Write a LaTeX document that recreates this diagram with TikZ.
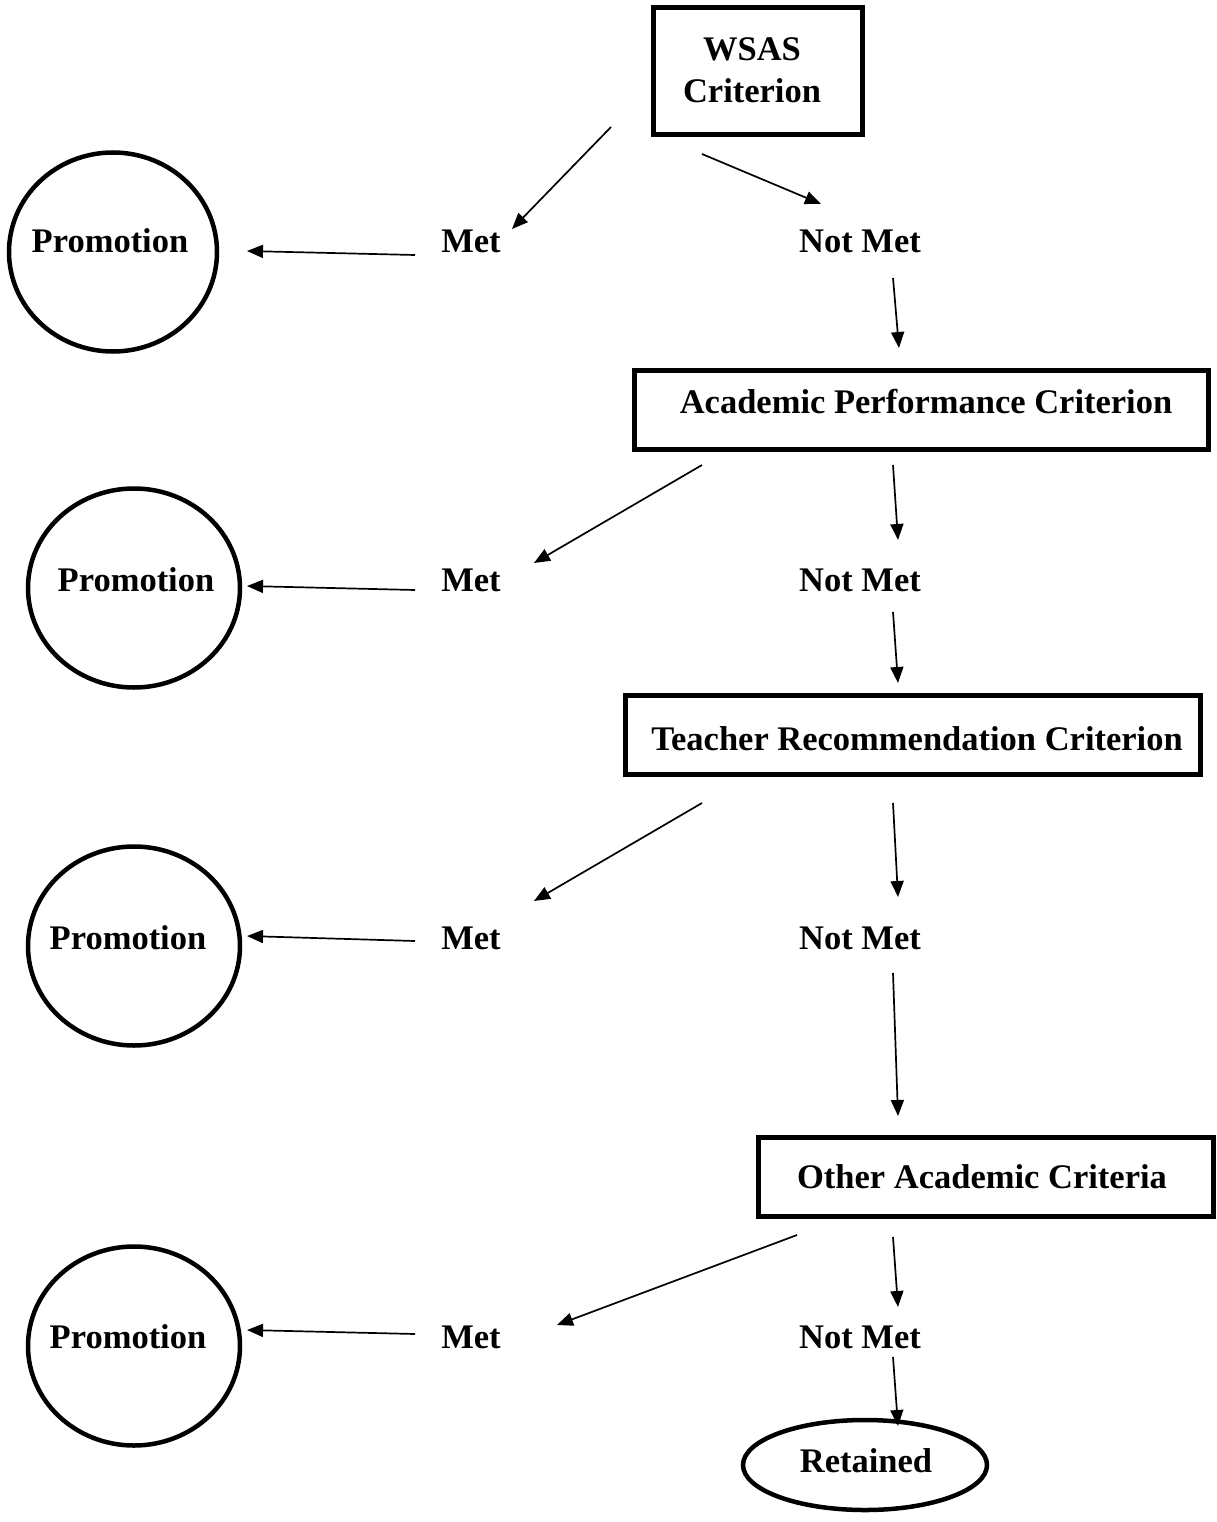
\documentclass[tikz,border=0pt]{standalone}
\usepackage{fontspec}
\setmainfont{Liberation Serif}
\usetikzlibrary{arrows.meta,shapes.geometric}
\begin{document}
\begin{tikzpicture}[x=1pt,y=-1pt,
  lbl/.style={font=\fontsize{34.5}{40}\selectfont\bfseries, anchor=base, inner sep=0pt},
  boxshape/.style={draw, line width=5pt, rectangle, inner sep=0pt},
  circshape/.style={draw, line width=4.5pt, ellipse, inner sep=0pt},
  arr/.style={line width=1.7pt, -{Triangle[length=16pt,width=13pt]}}
]
\useasboundingbox (0,0) rectangle (1217,1522);
% boxes
\node[boxshape, minimum width=209pt, minimum height=127pt] (wsas) at (757.5,71.5) {};
\node[boxshape, minimum width=574pt, minimum height=79pt] (apc) at (921,409.5) {};
\node[boxshape, minimum width=575pt, minimum height=79pt] (trc) at (912.5,734.5) {};
\node[boxshape, minimum width=455pt, minimum height=79pt] (oac) at (985.5,1176.5) {};
\node[circshape, minimum width=244pt, minimum height=90pt] (ret) at (865,1465) {};
% circles
\node[circshape, minimum width=208pt, minimum height=199pt] (p1) at (113,252) {};
\node[circshape, minimum width=212pt, minimum height=199pt] (p2) at (134,588) {};
\node[circshape, minimum width=212pt, minimum height=199pt] (p3) at (134,946) {};
\node[circshape, minimum width=212pt, minimum height=199pt] (p4) at (134,1346) {};
% texts
\node[lbl] (wsasA) at (752,61) {WSAS};
\node[lbl] (wsasB) at (752,103) {Criterion};
\node[lbl] (apcT) at (926,413) {Academic Performance Criterion};
\node[lbl] (trcT) at (917,750) {Teacher Recommendation Criterion};
\node[lbl] (oacT) at (982,1188) {Other Academic Criteria};
\node[lbl] (retT) at (866,1472) {Retained};
\node[lbl] (p1T) at (110,253) {Promotion};
\node[lbl] (p2T) at (136,591) {Promotion};
\node[lbl] (p3T) at (128,949) {Promotion};
\node[lbl] (p4T) at (128,1348) {Promotion};
\node[lbl] (m1) at (471,253) {Met};
\node[lbl] (m2) at (471,591) {Met};
\node[lbl] (m3) at (471,949) {Met};
\node[lbl] (m4) at (471,1348) {Met};
\node[lbl] (n1) at (860,253) {Not Met};
\node[lbl] (n2) at (860,591) {Not Met};
\node[lbl] (n3) at (860,949) {Not Met};
\node[lbl] (n4) at (860,1348) {Not Met};
% connector end points
\coordinate (a1s) at (611,127);  \coordinate (a1e) at (512,229);
\coordinate (a2s) at (702,154);  \coordinate (a2e) at (821,204);
\coordinate (a3s) at (415,255);  \coordinate (a3e) at (247,251);
\coordinate (a4s) at (893,278);  \coordinate (a4e) at (899,348);
\coordinate (b1s) at (702,465);  \coordinate (b1e) at (534,563);
\coordinate (b2s) at (893,465);  \coordinate (b2e) at (898,540);
\coordinate (b3s) at (415,590);  \coordinate (b3e) at (247,586);
\coordinate (b4s) at (893,612);  \coordinate (b4e) at (898,683);
\coordinate (c1s) at (702,803);  \coordinate (c1e) at (534,901);
\coordinate (c2s) at (893,803);  \coordinate (c2e) at (898,897);
\coordinate (c3s) at (415,941);  \coordinate (c3e) at (247,936);
\coordinate (c4s) at (893,973);  \coordinate (c4e) at (898,1116);
\coordinate (d1s) at (797,1235); \coordinate (d1e) at (557,1325);
\coordinate (d2s) at (893,1237); \coordinate (d2e) at (898,1307);
\coordinate (d3s) at (415,1334); \coordinate (d3e) at (247,1330);
\coordinate (d4s) at (893,1357); \coordinate (d4e) at (898,1426);
\foreach \p in {a1,a2,a3,a4,b1,b2,b3,b4,c1,c2,c3,c4,d1,d2,d3,d4}
  \draw[arr] (\p s) -- (\p e);
\end{tikzpicture}
\end{document}
